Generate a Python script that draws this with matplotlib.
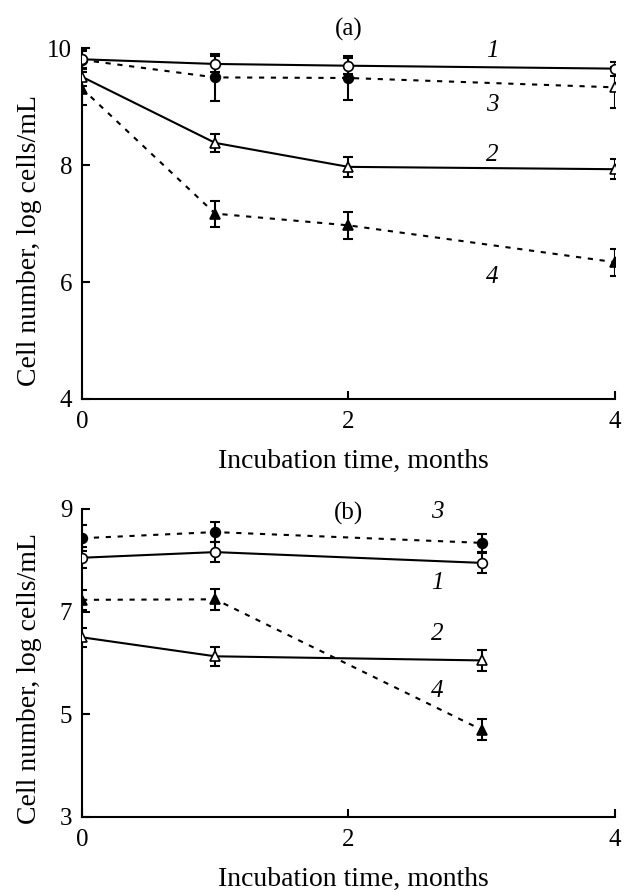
import matplotlib
matplotlib.use("Agg")
import matplotlib.pyplot as plt

plt.rcParams['font.family'] = ['Liberation Serif', 'DejaVu Serif']

# ---------------- data: panel (a) ----------------
xa = [0, 1, 2, 4]
a1 = [9.81, 9.73, 9.70, 9.65]
a1_err = [0.16, 0.13, 0.14, 0.12]
a2 = [9.51, 8.38, 7.97, 7.93]
a2_err = [0.15, 0.16, 0.17, 0.17]
a3 = [9.80, 9.50, 9.49, 9.33]
a3_err = [0.15, 0.40, 0.38, 0.35]
a4 = [9.31, 7.17, 6.97, 6.34]
a4_err = [0.28, 0.22, 0.23, 0.23]

# ---------------- data: panel (b) ----------------
xb = [0, 1, 3]
b1 = [8.05, 8.16, 7.95]
b1_err = [0.20, 0.20, 0.20]
b2 = [6.50, 6.13, 6.05]
b2_err = [0.18, 0.18, 0.20]
b3 = [8.43, 8.55, 8.34]
b3_err = [0.25, 0.20, 0.18]
b4 = [7.23, 7.24, 4.70]
b4_err = [0.20, 0.20, 0.20]

series_labels = ['1', '2', '3', '4']
xticks = [0, 2, 4]
yticks_a = [4, 6, 8, 10]
yticks_b = [3, 5, 7, 9]
xlabel = 'Incubation time, months'
ylabel = 'Cell number, log cells/mL'

fig = plt.figure(figsize=(6.26, 8.92), dpi=100)
ax_a = fig.add_axes([0.131, 0.5527, 0.851, 0.3933])
ax_b = fig.add_axes([0.131, 0.0841, 0.851, 0.3453])

LW = 1.5
DASH = (0, (2.5, 3.2))
MS = 7
CAP = 3.8


def draw(ax, x, y, err, ls, marker, filled, z, markers=None, fills=None):
    ax.plot(x, y, color='black', lw=LW, linestyle=ls, zorder=z)
    ax.errorbar(x, y, yerr=err, fmt='none', ecolor='black', elinewidth=LW,
                capsize=CAP, capthick=LW, zorder=z)
    mk = markers if markers else [marker] * len(x)
    fl = fills if fills else [filled] * len(x)
    for xi, yi, m, f in zip(x, y, mk, fl):
        ax.plot([xi], [yi], marker=m, ms=MS, mec='black',
                mfc='black' if f else 'white', mew=1.2, ls='none', zorder=z + 0.5)


# panel (a)
draw(ax_a, xa, a3, a3_err, DASH, 'o', True, 2, markers=['o', 'o', 'o', '^'],
     fills=[True, True, True, False])
draw(ax_a, xa, a4, a4_err, DASH, '^', True, 2)
draw(ax_a, xa, a2, a2_err, '-', '^', False, 3)
draw(ax_a, xa, a1, a1_err, '-', 'o', False, 4)

# panel (b)
draw(ax_b, xb, b3, b3_err, DASH, 'o', True, 2)
draw(ax_b, xb, b4, b4_err, DASH, '^', True, 2)
draw(ax_b, xb, b2, b2_err, '-', '^', False, 3)
draw(ax_b, xb, b1, b1_err, '-', 'o', False, 4)

FS = 18
FSL = 20
# label positions in order of series_labels 1, 2, 3, 4
lab_a_pos = [(3.08, 9.95), (3.08, 8.17), (3.08, 9.03), (3.08, 6.09)]
lab_b_pos = [(2.67, 7.56), (2.67, 6.57), (2.67, 8.95), (2.67, 5.46)]
for lab, (px, py) in zip(series_labels, lab_a_pos):
    ax_a.text(px, py, lab, fontsize=FS, style='italic', ha='center', va='center')
for lab, (px, py) in zip(series_labels, lab_b_pos):
    ax_b.text(px, py, lab, fontsize=FS, style='italic', ha='center', va='center')

ax_a.text(2, 10.32, '(a)', fontsize=FS, ha='center', va='center', clip_on=False)
ax_b.text(2, 8.92, '(b)', fontsize=FS, ha='center', va='center')

for ax, yt in ((ax_a, yticks_a), (ax_b, yticks_b)):
    ax.set_xlim(0, 4)
    ax.set_ylim(yt[0], yt[-1])
    ax.set_xticks(xticks)
    ax.set_yticks(yt)
    ax.spines['top'].set_visible(False)
    ax.spines['right'].set_visible(False)
    ax.spines['left'].set_linewidth(LW)
    ax.spines['bottom'].set_linewidth(LW)
    ax.tick_params(direction='in', length=6, width=LW, labelsize=FS)
    ax.tick_params(axis='x', pad=9)
    ax.tick_params(axis='y', pad=7)
    ax.set_xlabel(xlabel, fontsize=FSL)
    ax.set_ylabel(ylabel, fontsize=FSL)
    for s in ax.spines.values():
        s.set_zorder(1)
    ax.set_facecolor('none')

ax_a.xaxis.set_label_coords(0.51, -0.142)
ax_b.xaxis.set_label_coords(0.51, -0.162)
ax_a.yaxis.set_label_coords(-0.075, 0.453)
ax_b.yaxis.set_label_coords(-0.075, 0.45)

fig.savefig('out.png', dpi=100)
